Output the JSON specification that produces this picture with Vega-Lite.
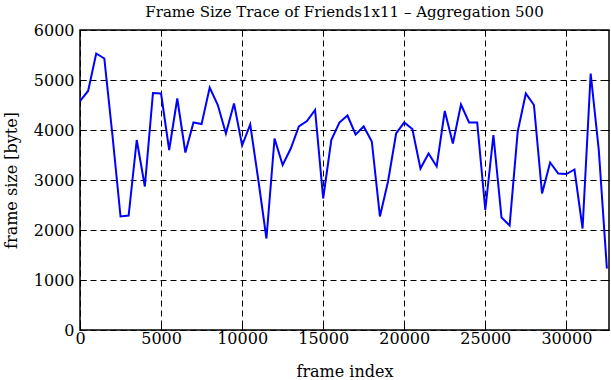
{
  "$schema": "https://vega.github.io/schema/vega-lite/v6.json",
  "autosize": "none",
  "width": 529,
  "height": 300,
  "padding": {"left": 80, "top": 30, "right": 2, "bottom": 50},
  "background": "white",
  "title": {"text": "Frame Size Trace of Friends1x11 – Aggregation 500", "font": "DejaVu Serif", "fontSize": 15, "fontWeight": "normal", "color": "black", "offset": 2},
  "config": {
    "view": {"stroke": "black", "strokeWidth": 1.5},
    "axis": {"labelFont": "DejaVu Serif", "titleFont": "DejaVu Serif", "labelFontSize": 16, "titleFontSize": 16, "titleFontWeight": "normal", "labelColor": "black", "titleColor": "black", "domain": false, "tickColor": "black", "tickSize": -6, "tickWidth": 1, "gridColor": "black", "gridDash": [6, 4], "gridOpacity": 1, "gridWidth": 1}
  },
  "data": {"values": [
    {"frame": 0, "size": 4580}, {"frame": 500, "size": 4780}, {"frame": 1000, "size": 5530}, {"frame": 1500, "size": 5430},
    {"frame": 2000, "size": 3900}, {"frame": 2500, "size": 2270}, {"frame": 3000, "size": 2290}, {"frame": 3500, "size": 3800},
    {"frame": 4000, "size": 2870}, {"frame": 4500, "size": 4740}, {"frame": 5000, "size": 4730}, {"frame": 5500, "size": 3600},
    {"frame": 6000, "size": 4630}, {"frame": 6500, "size": 3550}, {"frame": 7000, "size": 4150}, {"frame": 7500, "size": 4120},
    {"frame": 8000, "size": 4850}, {"frame": 8500, "size": 4500}, {"frame": 9000, "size": 3930}, {"frame": 9500, "size": 4530},
    {"frame": 10000, "size": 3690}, {"frame": 10500, "size": 4110}, {"frame": 11000, "size": 3000}, {"frame": 11500, "size": 1830},
    {"frame": 12000, "size": 3830}, {"frame": 12500, "size": 3300}, {"frame": 13000, "size": 3630}, {"frame": 13500, "size": 4070},
    {"frame": 14000, "size": 4180}, {"frame": 14500, "size": 4400}, {"frame": 15000, "size": 2630}, {"frame": 15500, "size": 3800},
    {"frame": 16000, "size": 4150}, {"frame": 16500, "size": 4290}, {"frame": 17000, "size": 3910}, {"frame": 17500, "size": 4070},
    {"frame": 18000, "size": 3770}, {"frame": 18500, "size": 2270}, {"frame": 19000, "size": 2970}, {"frame": 19500, "size": 3930},
    {"frame": 20000, "size": 4150}, {"frame": 20500, "size": 4020}, {"frame": 21000, "size": 3230}, {"frame": 21500, "size": 3530},
    {"frame": 22000, "size": 3270}, {"frame": 22500, "size": 4380}, {"frame": 23000, "size": 3730}, {"frame": 23500, "size": 4510},
    {"frame": 24000, "size": 4150}, {"frame": 24500, "size": 4150}, {"frame": 25000, "size": 2400}, {"frame": 25500, "size": 3900},
    {"frame": 26000, "size": 2250}, {"frame": 26500, "size": 2090}, {"frame": 27000, "size": 3970}, {"frame": 27500, "size": 4730},
    {"frame": 28000, "size": 4500}, {"frame": 28500, "size": 2730}, {"frame": 29000, "size": 3350}, {"frame": 29500, "size": 3130},
    {"frame": 30000, "size": 3120}, {"frame": 30500, "size": 3210}, {"frame": 31000, "size": 2030}, {"frame": 31500, "size": 5130},
    {"frame": 32000, "size": 3600}, {"frame": 32500, "size": 1230}
  ]},
  "layer": [
    {
      "mark": {"type": "line", "color": "#0000ff", "strokeWidth": 2, "clip": true},
      "encoding": {
        "x": {"field": "frame", "type": "quantitative", "title": "frame index", "scale": {"domain": [0, 32630], "nice": false}, "axis": {"values": [0, 5000, 10000, 15000, 20000, 25000, 30000], "format": "d", "labelPadding": 6, "titlePadding": 17, "labelFlush": false, "grid": true}},
        "y": {"field": "size", "type": "quantitative", "title": "frame size [byte]", "scale": {"domain": [0, 6000], "nice": false}, "axis": {"values": [0, 1000, 2000, 3000, 4000, 5000, 6000], "format": "d", "labelPadding": 12, "titlePadding": 14, "labelFlush": false, "grid": true}}
      }
    },
    {
      "mark": {"type": "line", "opacity": 0},
      "encoding": {
        "x": {"field": "frame", "type": "quantitative", "axis": {"orient": "top", "values": [0, 5000, 10000, 15000, 20000, 25000, 30000], "labels": false, "title": null, "grid": false}},
        "y": {"field": "size", "type": "quantitative", "axis": {"orient": "right", "values": [0, 1000, 2000, 3000, 4000, 5000, 6000], "labels": false, "title": null, "grid": false}}
      }
    }
  ],
  "resolve": {"axis": {"x": "independent", "y": "independent"}}
}
